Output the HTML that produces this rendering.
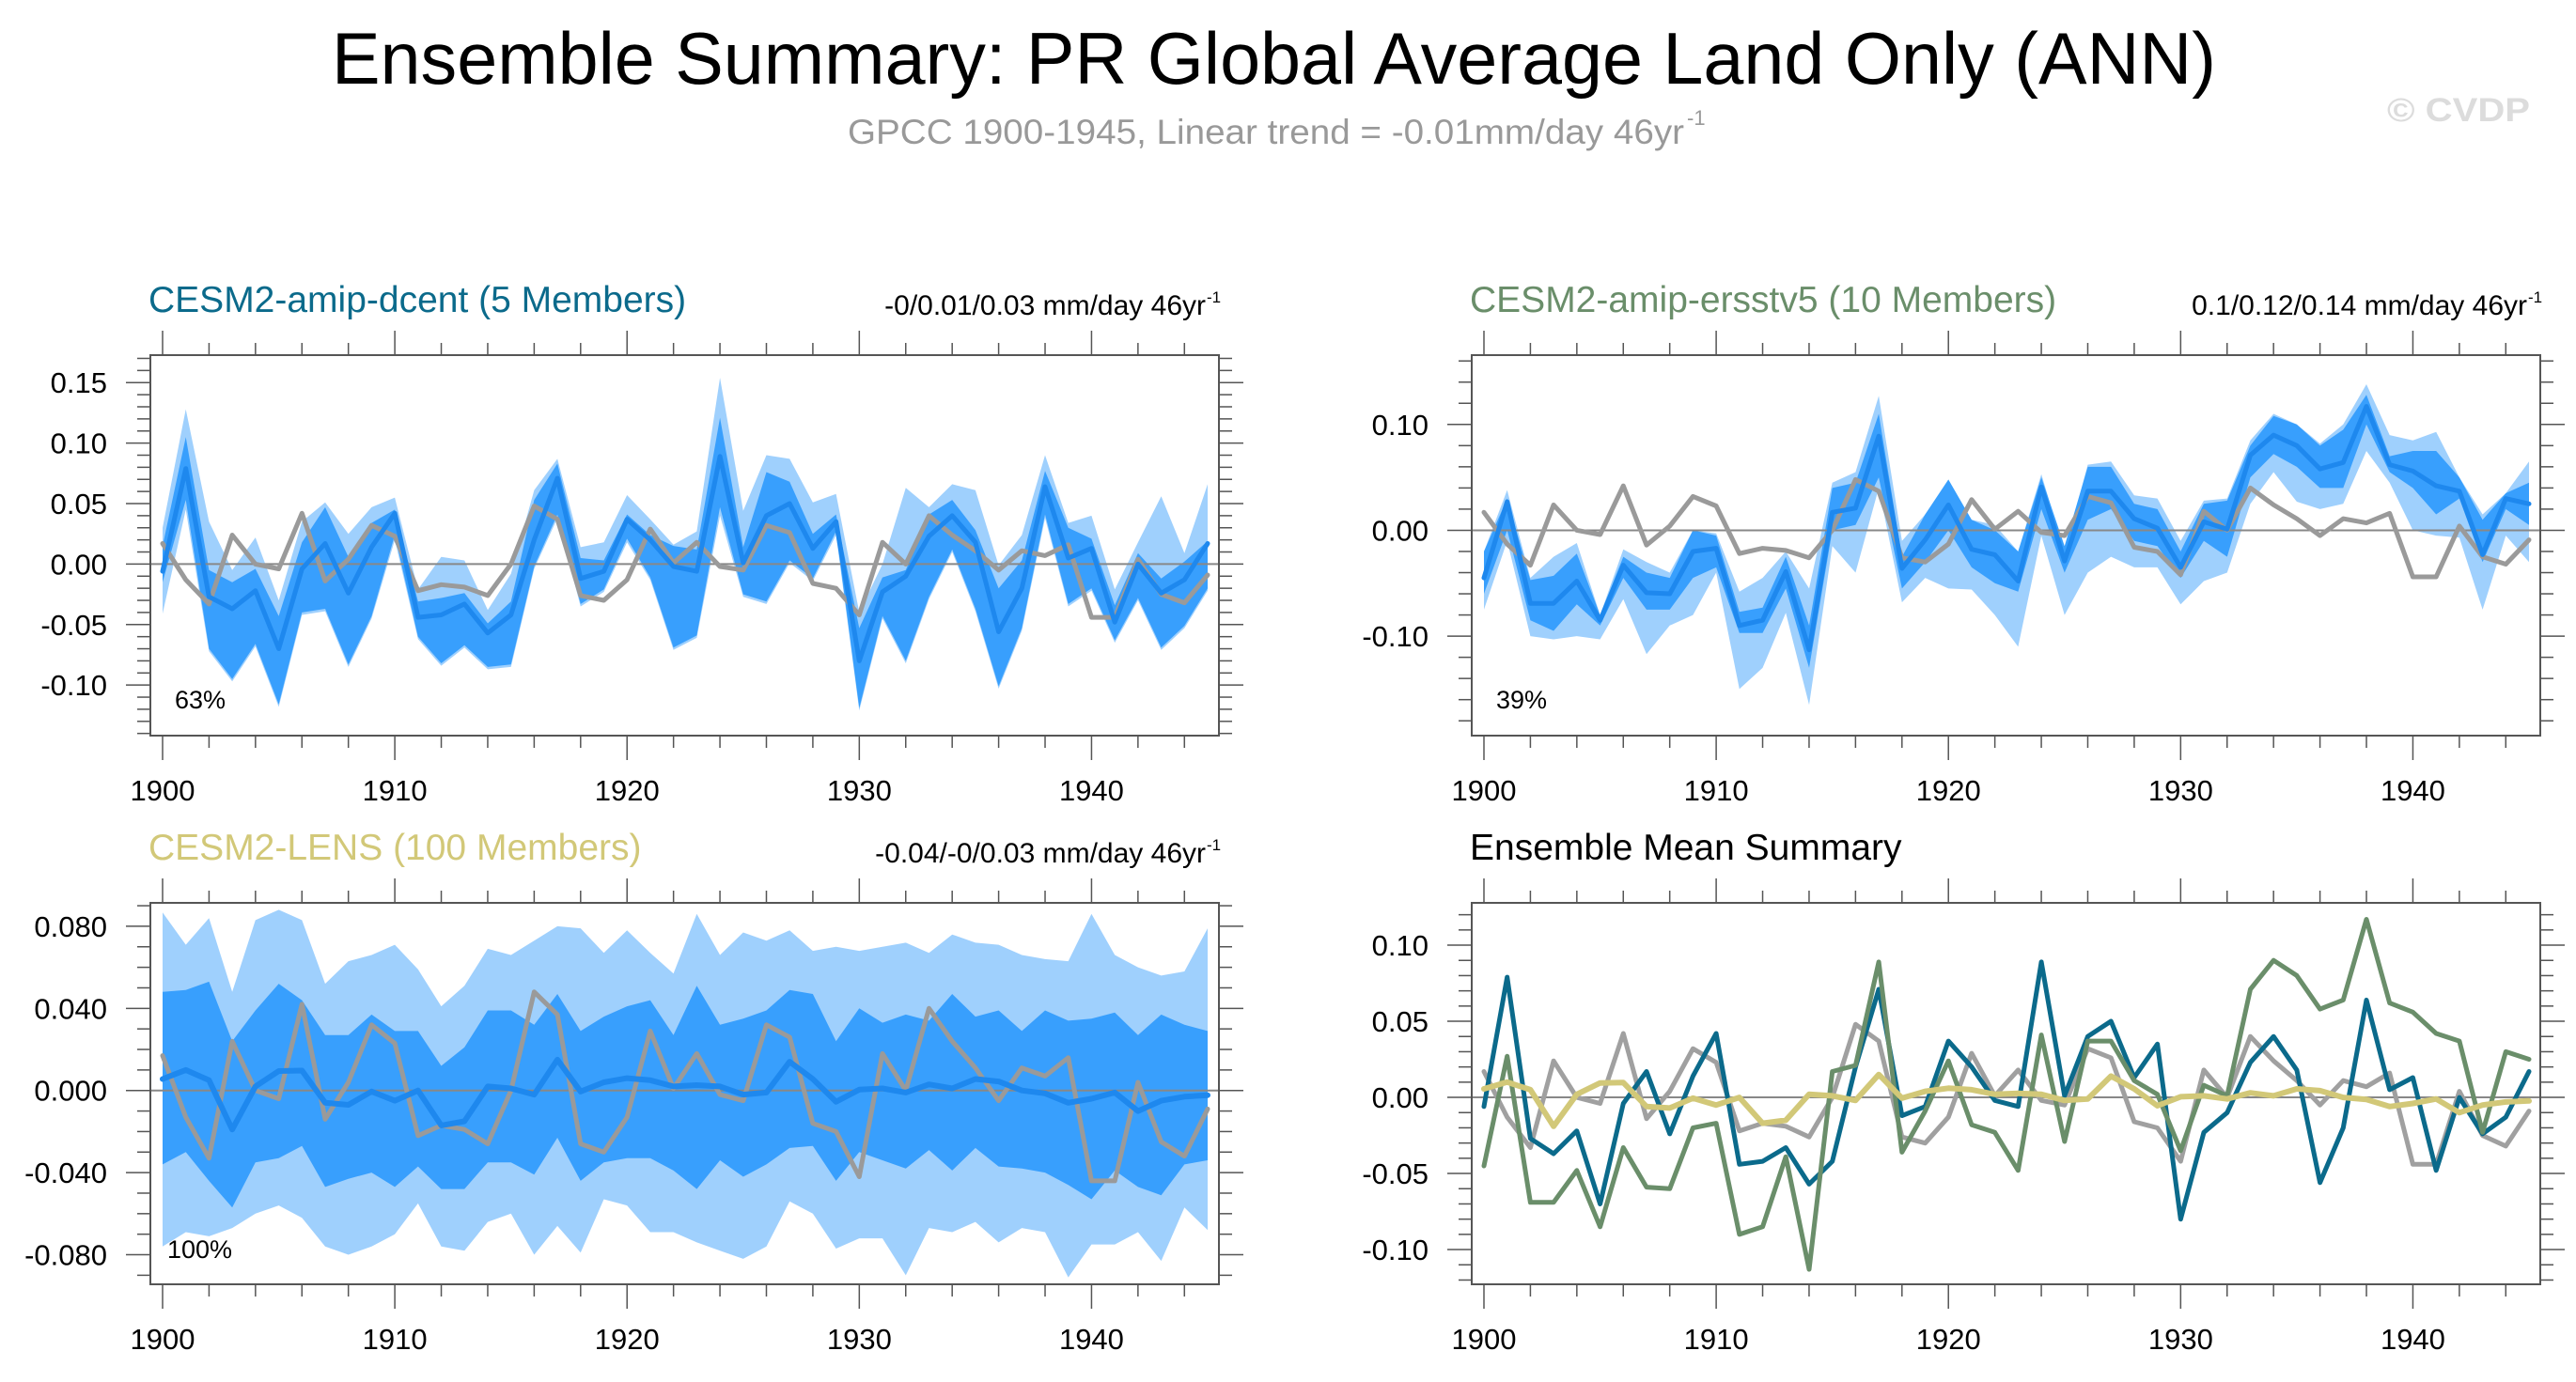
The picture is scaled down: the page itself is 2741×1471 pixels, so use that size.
<!DOCTYPE html>
<html><head><meta charset="utf-8">
<style>
html,body{margin:0;padding:0;background:#fff;}
svg{display:block;font-family:"Liberation Sans",Arial,sans-serif;}
</style></head>
<body>
<svg id="chart" width="2741" height="1471" viewBox="0 0 2741 1471" xmlns="http://www.w3.org/2000/svg">
<text x="353" y="89" font-size="78" textLength="2005" lengthAdjust="spacingAndGlyphs" fill="#000">Ensemble Summary: PR Global Average Land Only (ANN)</text>
<text x="902" y="153" font-size="37" textLength="890" lengthAdjust="spacingAndGlyphs" fill="#999">GPCC 1900-1945, Linear trend = -0.01mm/day 46yr</text>
<text x="1795" y="133" font-size="22" fill="#999">-1</text>
<text x="2540" y="129" font-size="35" font-weight="bold" textLength="152" lengthAdjust="spacingAndGlyphs" fill="#dcdcdc">© CVDP</text>
</svg>
<script>
const years = [];
for (let y = 1900; y <= 1945; y++) years.push(y);

const obsGPCC = [0.017,-0.013,-0.033,0.024,0.0,-0.004,0.042,-0.014,0.004,0.032,0.023,-0.022,-0.017,-0.019,-0.026,0.0,0.048,0.037,-0.026,-0.030,-0.013,0.029,0.001,0.018,-0.002,-0.005,0.032,0.026,-0.016,-0.020,-0.042,0.018,0.0,0.040,0.024,0.011,-0.005,0.011,0.007,0.016,-0.044,-0.044,0.004,-0.025,-0.032,-0.009];

const dcentMean = [-0.006,0.079,-0.027,-0.037,-0.022,-0.070,-0.004,0.017,-0.024,0.014,0.042,-0.044,-0.042,-0.033,-0.057,-0.042,0.020,0.071,-0.012,-0.006,0.037,0.020,-0.002,-0.006,0.089,0.001,0.040,0.050,0.013,0.035,-0.080,-0.023,-0.010,0.023,0.040,0.018,-0.056,-0.020,0.064,0.005,0.013,-0.048,0.0,-0.024,-0.013,0.017];
const dcentLightHi = [0.030,0.128,0.035,-0.005,0.022,-0.030,0.035,0.051,0.025,0.047,0.055,-0.021,0.006,0.003,-0.038,-0.008,0.061,0.087,0.014,0.018,0.057,0.037,0.016,0.027,0.154,0.044,0.090,0.087,0.051,0.058,-0.040,0.0,0.063,0.047,0.066,0.061,-0.001,0.024,0.090,0.034,0.040,-0.021,0.018,0.056,0.009,0.066];
const dcentDarkHi = [0.015,0.105,-0.005,-0.015,-0.004,-0.043,0.018,0.047,0.006,0.034,0.045,-0.031,-0.028,-0.024,-0.049,-0.031,0.053,0.083,0.005,0.003,0.041,0.024,0.015,0.012,0.121,0.014,0.076,0.068,0.025,0.041,-0.053,-0.011,-0.005,0.041,0.053,0.028,-0.020,0.003,0.077,0.030,0.021,-0.034,0.009,-0.012,0.002,0.019];
const dcentDarkLo = [-0.015,0.053,-0.070,-0.095,-0.066,-0.116,-0.040,-0.037,-0.083,-0.043,0.024,-0.060,-0.082,-0.067,-0.085,-0.083,-0.002,0.041,-0.033,-0.021,0.021,-0.011,-0.069,-0.059,0.047,-0.025,-0.031,0.003,-0.012,0.027,-0.119,-0.043,-0.080,-0.027,0.012,-0.037,-0.101,-0.053,0.041,-0.033,-0.020,-0.063,-0.028,-0.069,-0.051,-0.020];
const dcentLightLo = [-0.041,0.045,-0.072,-0.097,-0.068,-0.118,-0.042,-0.039,-0.085,-0.045,0.020,-0.062,-0.084,-0.069,-0.087,-0.085,-0.004,0.038,-0.035,-0.023,0.018,-0.013,-0.071,-0.061,0.040,-0.027,-0.033,0.001,-0.014,0.024,-0.121,-0.045,-0.082,-0.029,0.010,-0.039,-0.103,-0.055,0.038,-0.035,-0.022,-0.065,-0.030,-0.071,-0.053,-0.022];

const ersstMean = [-0.045,0.027,-0.069,-0.069,-0.048,-0.085,-0.033,-0.059,-0.060,-0.020,-0.017,-0.090,-0.085,-0.039,-0.113,0.017,0.021,0.089,-0.036,-0.009,0.024,-0.018,-0.023,-0.048,0.041,-0.029,0.037,0.037,0.011,0.002,-0.035,0.008,0.001,0.071,0.090,0.080,0.058,0.064,0.117,0.062,0.056,0.042,0.037,-0.023,0.030,0.025];
const ersstLightHi = [-0.020,0.038,-0.045,-0.025,-0.012,-0.080,-0.018,-0.030,-0.040,0.0,-0.003,-0.058,-0.045,-0.020,-0.055,0.045,0.055,0.127,-0.010,0.015,0.045,0.010,0.005,-0.020,0.053,-0.020,0.062,0.065,0.033,0.030,-0.010,0.028,0.030,0.085,0.110,0.100,0.082,0.100,0.138,0.090,0.085,0.093,0.050,0.015,0.035,0.065];
const ersstDarkHi = [-0.020,0.030,-0.047,-0.043,-0.022,-0.080,-0.025,-0.040,-0.045,0.0,-0.005,-0.077,-0.073,-0.025,-0.090,0.040,0.045,0.110,-0.025,0.015,0.048,0.010,0.0,-0.020,0.050,-0.015,0.060,0.060,0.025,0.020,-0.020,0.025,0.028,0.080,0.108,0.100,0.080,0.095,0.128,0.070,0.075,0.075,0.050,0.010,0.035,0.045];
const ersstDarkLo = [-0.060,0.0,-0.085,-0.095,-0.070,-0.090,-0.045,-0.075,-0.075,-0.045,-0.035,-0.097,-0.097,-0.055,-0.130,0.0,0.005,0.050,-0.055,-0.030,0.0,-0.035,-0.050,-0.058,0.020,-0.040,0.010,0.020,-0.010,-0.015,-0.045,-0.010,-0.025,0.050,0.072,0.060,0.040,0.040,0.100,0.055,0.040,0.015,0.030,-0.030,0.020,0.005];
const ersstLightLo = [-0.075,-0.010,-0.100,-0.103,-0.100,-0.103,-0.065,-0.117,-0.090,-0.080,-0.040,-0.150,-0.130,-0.078,-0.165,-0.015,-0.040,0.040,-0.068,-0.045,-0.055,-0.056,-0.080,-0.110,-0.005,-0.080,-0.040,-0.025,-0.035,-0.035,-0.070,-0.048,-0.040,0.025,0.055,0.027,0.020,0.025,0.075,0.045,0.0,-0.005,-0.007,-0.075,-0.005,-0.030];

const lensMean = [0.0056,0.010,0.005,-0.019,0.002,0.0095,0.0097,-0.006,-0.007,-0.0005,-0.005,0.0,-0.017,-0.015,0.002,0.001,-0.002,0.015,-0.0005,0.004,0.006,0.005,0.002,0.0026,0.002,-0.002,-0.001,0.014,0.0056,-0.0055,0.0004,0.001,-0.001,0.003,0.001,0.0056,0.0044,0.0,-0.0014,-0.006,-0.004,-0.001,-0.010,-0.005,-0.003,-0.0023];
const lensLightHi = [0.0867,0.071,0.084,0.048,0.083,0.088,0.083,0.052,0.063,0.066,0.071,0.059,0.041,0.051,0.069,0.066,0.073,0.080,0.079,0.067,0.078,0.067,0.057,0.086,0.066,0.077,0.073,0.078,0.068,0.070,0.068,0.070,0.072,0.067,0.076,0.072,0.071,0.066,0.064,0.063,0.086,0.066,0.060,0.056,0.058,0.079];
const lensDarkHi = [0.048,0.049,0.053,0.024,0.039,0.052,0.044,0.027,0.027,0.037,0.029,0.029,0.012,0.021,0.039,0.039,0.032,0.047,0.029,0.036,0.041,0.044,0.027,0.051,0.032,0.035,0.039,0.049,0.047,0.024,0.040,0.033,0.037,0.034,0.047,0.036,0.039,0.029,0.039,0.034,0.035,0.038,0.027,0.037,0.032,0.029];
const lensDarkLo = [-0.036,-0.030,-0.044,-0.057,-0.035,-0.033,-0.027,-0.047,-0.043,-0.040,-0.047,-0.037,-0.048,-0.048,-0.035,-0.035,-0.041,-0.023,-0.044,-0.035,-0.033,-0.033,-0.039,-0.048,-0.034,-0.042,-0.036,-0.028,-0.027,-0.044,-0.030,-0.034,-0.038,-0.029,-0.039,-0.028,-0.037,-0.038,-0.040,-0.046,-0.053,-0.039,-0.047,-0.051,-0.036,-0.034];
const lensLightLo = [-0.076,-0.069,-0.071,-0.067,-0.060,-0.056,-0.062,-0.076,-0.080,-0.076,-0.070,-0.055,-0.076,-0.078,-0.064,-0.060,-0.080,-0.066,-0.079,-0.053,-0.056,-0.069,-0.069,-0.074,-0.078,-0.082,-0.076,-0.054,-0.060,-0.077,-0.072,-0.072,-0.090,-0.067,-0.069,-0.064,-0.074,-0.067,-0.069,-0.091,-0.075,-0.075,-0.069,-0.083,-0.057,-0.068];

const NS = "http://www.w3.org/2000/svg";
const svg = document.getElementById("chart");
function mk(tag, attrs, parent) {
  const e = document.createElementNS(NS, tag);
  for (const k in attrs) e.setAttribute(k, attrs[k]);
  (parent || svg).appendChild(e);
  return e;
}
function makeScales(p) {
  const xs = y => p.x0 + (y - 1900) / 45 * (p.x1 - p.x0);
  const ys = v => p.top + (p.vmax - v) / (p.vmax - p.vmin) * (p.bot - p.top);
  return [xs, ys];
}
function fmt(v, d) { return v.toFixed(d); }

function drawPanel(p) {
  const g = mk("g", {});
  
  
  const [xs, ys] = makeScales(p);
  const t = mk("text", {x: p.left - 2, y: p.titleY, "font-size": 39, fill: p.titleColor}, g);
  t.textContent = p.title;
  
  
  if (p.trend) {
    const tr = mk("text", {x: p.right - 14, y: p.titleY + 3, "font-size": 30, fill: "#000", "text-anchor": "end"}, g);
    tr.textContent = p.trend;
    
    
    const sup = mk("text", {x: p.right - 13, y: p.titleY - 10, "font-size": 17, fill: "#000"}, g);
    sup.textContent = "-1";
    
    
  }
  const bandPath = (hi, lo) => {
    let d = "";
    years.forEach((y, i) => { d += (i ? "L" : "M") + xs(y).toFixed(1) + "," + ys(hi[i]).toFixed(1); });
    for (let i = years.length - 1; i >= 0; i--) d += "L" + xs(years[i]).toFixed(1) + "," + ys(lo[i]).toFixed(1);
    return d + "Z";
  };
  const linePath = arr => {
    let d = "";
    years.forEach((y, i) => { d += (i ? "L" : "M") + xs(y).toFixed(1) + "," + ys(arr[i]).toFixed(1); });
    return d;
  };
  if (p.bands) {
    const b1 = mk("path", {d: bandPath(p.bands[0], p.bands[3]), fill: "#9fd0fd", stroke: "none"}, g);
    
    
    const b2 = mk("path", {d: bandPath(p.bands[1], p.bands[2]), fill: "#389ffd", stroke: "none"}, g);
    
    
  }
  const z = mk("line", {x1: p.left, x2: p.right, y1: ys(0), y2: ys(0), stroke: "#888", "stroke-width": 2}, g);
  
  
  p.lines.forEach(L => {
    const pl = mk("path", {d: linePath(L.data), fill: "none", stroke: L.color, "stroke-width": L.w, "stroke-linejoin": "round", "stroke-linecap": "round"}, g);
    
    
  });
  const fr = mk("rect", {x: p.left, y: p.top, width: p.right - p.left, height: p.bot - p.top, fill: "none", stroke: "#555", "stroke-width": 2}, g);
  
  
  for (let y = 1900; y <= 1945; y += 2) {
    const major = y % 10 === 0;
    const L = major ? 26 : 13;
    mk("line", {x1: xs(y), x2: xs(y), y1: p.top, y2: p.top - L, stroke: "#555", "stroke-width": 1.5}, g);
    mk("line", {x1: xs(y), x2: xs(y), y1: p.bot, y2: p.bot + L, stroke: "#555", "stroke-width": 1.5}, g);
    if (major) {
      const lb = mk("text", {x: xs(y), y: p.bot + 69, "font-size": 31, "text-anchor": "middle", fill: "#000"}, g);
      lb.textContent = y;
      
      
    }
  }
  const start = Math.ceil(p.vmin / p.minor - 1e-6);
  for (let k = start; k * p.minor <= p.vmax + 1e-9; k++) {
    const v = k * p.minor;
    const major = Math.abs(v / p.major - Math.round(v / p.major)) < 1e-6;
    const L = major ? 26 : 14;
    mk("line", {x1: p.left, x2: p.left - L, y1: ys(v), y2: ys(v), stroke: "#555", "stroke-width": 1.5}, g);
    mk("line", {x1: p.right, x2: p.right + L, y1: ys(v), y2: ys(v), stroke: "#555", "stroke-width": 1.5}, g);
    if (major) {
      const lb = mk("text", {x: p.left - 46, y: ys(v) + 11, "font-size": 31, "text-anchor": "end", fill: "#000"}, g);
      lb.textContent = fmt(v, p.dec);
      
      
    }
  }
  if (p.pct) {
    const pc = mk("text", {x: p.pctX, y: p.pctY, "font-size": 27, fill: "#000"}, g);
    pc.textContent = p.pct;
    
    
  }
}

drawPanel({name: "panel-amip-dcent", left: 160, right: 1297, x0: 173, x1: 1285, top: 378, bot: 783, vmin: -0.1418, vmax: 0.1727, major: 0.05, minor: 0.01, dec: 2,
  title: "CESM2-amip-dcent (5 Members)", titleColor: "#0b6a8b", titleY: 332, trend: "-0/0.01/0.03 mm/day 46yr",
  bands: [dcentLightHi, dcentDarkHi, dcentDarkLo, dcentLightLo],
  lines: [{data: obsGPCC, color: "#9a9a9a", w: 5, name: "gpcc-observed-line"}, {data: dcentMean, color: "#1e88ee", w: 5, name: "ensemble-mean-line"}],
  pct: "63%", pctX: 186, pctY: 754});

drawPanel({name: "panel-amip-ersstv5", left: 1566, right: 2703, x0: 1579, x1: 2691, top: 378, bot: 783, vmin: -0.194, vmax: 0.1655, major: 0.10, minor: 0.02, dec: 2,
  title: "CESM2-amip-ersstv5 (10 Members)", titleColor: "#6a8e6a", titleY: 332, trend: "0.1/0.12/0.14 mm/day 46yr",
  bands: [ersstLightHi, ersstDarkHi, ersstDarkLo, ersstLightLo],
  lines: [{data: obsGPCC, color: "#9a9a9a", w: 5, name: "gpcc-observed-line"}, {data: ersstMean, color: "#1e88ee", w: 5, name: "ensemble-mean-line"}],
  pct: "39%", pctX: 1592, pctY: 754});

drawPanel({name: "panel-cesm2-lens", left: 160, right: 1297, x0: 173, x1: 1285, top: 961, bot: 1367, vmin: -0.0944, vmax: 0.0914, major: 0.04, minor: 0.01, dec: 3,
  title: "CESM2-LENS (100 Members)", titleColor: "#d2c878", titleY: 915, trend: "-0.04/-0/0.03 mm/day 46yr",
  bands: [lensLightHi, lensDarkHi, lensDarkLo, lensLightLo],
  lines: [{data: obsGPCC, color: "#9a9a9a", w: 5, name: "gpcc-observed-line"}, {data: lensMean, color: "#1e88ee", w: 6, name: "ensemble-mean-line"}],
  pct: "100%", pctX: 178, pctY: 1339});

drawPanel({name: "panel-ensemble-mean-summary", left: 1566, right: 2703, x0: 1579, x1: 2691, top: 961, bot: 1367, vmin: -0.1228, vmax: 0.1278, major: 0.05, minor: 0.01, dec: 2,
  title: "Ensemble Mean Summary", titleColor: "#000", titleY: 915, trend: null,
  bands: null,
  lines: [{data: obsGPCC, color: "#a0a0a0", w: 5, name: "gpcc-observed-line"},
          {data: dcentMean, color: "#0b6a8b", w: 5, name: "amip-dcent-mean-line"},
          {data: ersstMean, color: "#6a8e6a", w: 5, name: "amip-ersstv5-mean-line"},
          {data: lensMean, color: "#d2c878", w: 6, name: "cesm2-lens-mean-line"}]});
</script>
</body></html>
